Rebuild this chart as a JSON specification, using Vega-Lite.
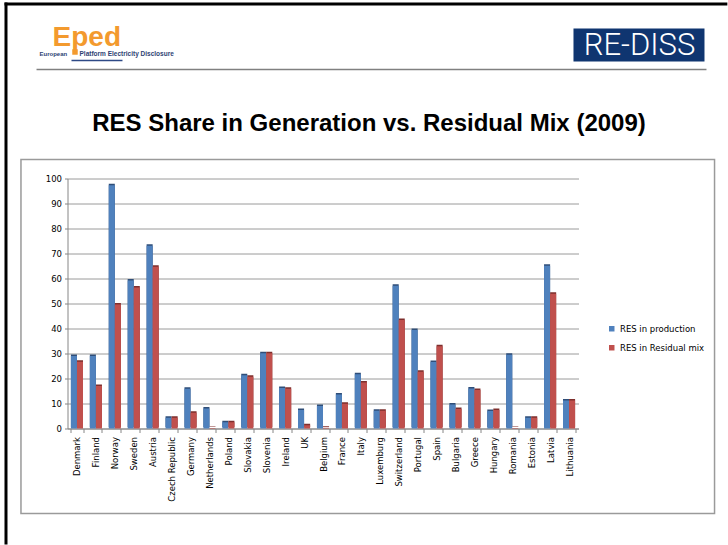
{
  "$schema": "https://vega.github.io/schema/vega-lite/v6.json",
  "background": "white",
  "padding": {"left": 2.5, "top": 0.5, "right": 0, "bottom": 0},
  "bounds": "flush",
  "spacing": 109,
  "config": {"font": "DejaVu Sans", "view": {"stroke": null}},
  "vconcat": [
    {
      "width": 640,
      "height": 50,
      "data": {"values": [{"logo": "header"}]},
      "layer": [
        {
          "mark": {"type": "rect", "fill": "transparent", "stroke": "#9A9A9A", "strokeWidth": 1.5},
          "encoding": {
            "x": {"datum": -7.27, "type": "quantitative", "scale": {"domain": [0, 100]}, "axis": null},
            "x2": {"datum": 101.1},
            "y": {"datum": 280, "type": "quantitative", "scale": {"domain": [0, 100], "reverse": true}, "axis": null},
            "y2": {"datum": 988}
          }
        },
        {
          "mark": {"type": "rule", "color": "#000000", "strokeWidth": 3},
          "encoding": {
            "x": {"datum": -9.84, "type": "quantitative"},
            "x2": {"datum": 103.1},
            "y": {"datum": -31, "type": "quantitative"}
          }
        },
        {
          "mark": {"type": "rule", "color": "#000000", "strokeWidth": 3},
          "encoding": {
            "x": {"datum": -9.61, "type": "quantitative"},
            "y": {"datum": -34, "type": "quantitative"},
            "y2": {"datum": 1050}
          }
        },
        {
          "mark": {"type": "rule", "color": "#808080", "strokeWidth": 1.5},
          "encoding": {
            "x": {"datum": -4.84, "type": "quantitative"},
            "x2": {"datum": 99.84},
            "y": {"datum": 100, "type": "quantitative"}
          }
        },
        {
          "mark": {"type": "rule", "color": "#2E4A86", "strokeWidth": 1.5},
          "encoding": {
            "x": {"datum": 0.625, "type": "quantitative"},
            "x2": {"datum": 8.59},
            "y": {"datum": 82, "type": "quantitative"}
          }
        },
        {
          "mark": {"type": "square", "color": "#F39A2E", "opacity": 1, "size": 30},
          "encoding": {
            "x": {"datum": 1.17, "type": "quantitative"},
            "y": {"datum": 65, "type": "quantitative"}
          }
        },
        {
          "mark": {"type": "text", "text": "Eped", "font": "Liberation Sans", "fontWeight": "bold", "fontSize": 28, "color": "#F39A2E", "align": "left", "baseline": "alphabetic"},
          "encoding": {
            "x": {"datum": -2.34, "type": "quantitative"},
            "y": {"datum": 52, "type": "quantitative"}
          }
        },
        {
          "mark": {"type": "text", "text": "European", "font": "Liberation Sans", "fontWeight": "bold", "fontSize": 6, "color": "#2E3F73", "align": "left", "baseline": "alphabetic"},
          "encoding": {
            "x": {"datum": -4.375, "type": "quantitative"},
            "y": {"datum": 73, "type": "quantitative"}
          }
        },
        {
          "mark": {"type": "text", "text": "Platform Electricity Disclosure", "font": "Liberation Sans", "fontWeight": "bold", "fontSize": 6.5, "color": "#2E3F73", "align": "left", "baseline": "alphabetic"},
          "encoding": {
            "x": {"datum": 1.875, "type": "quantitative"},
            "y": {"datum": 73, "type": "quantitative"}
          }
        },
        {
          "mark": {"type": "rect", "color": "#0F3570"},
          "encoding": {
            "x": {"datum": 79.06, "type": "quantitative"},
            "x2": {"datum": 99.53},
            "y": {"datum": 18, "type": "quantitative"},
            "y2": {"datum": 84}
          }
        },
        {
          "mark": {"type": "text", "text": "RE-DISS", "font": "Roboto", "fontWeight": 300, "fontSize": 31, "color": "white", "align": "center", "baseline": "alphabetic"},
          "encoding": {
            "x": {"datum": 89.375, "type": "quantitative"},
            "y": {"datum": 71, "type": "quantitative"}
          }
        }
      ]
    },
    {
      "width": 511,
      "height": 250,
      "title": {
        "text": "RES Share in Generation vs. Residual Mix (2009)",
        "font": "Liberation Sans",
        "fontSize": 24,
        "fontWeight": "bold",
        "color": "#000000",
        "anchor": "middle",
        "frame": "group",
        "dx": 46,
        "offset": 38.5
      },
      "data": {
        "values": [
          {"country": "Denmark", "series": "RES in production", "value": 29.0},
          {"country": "Denmark", "series": "RES in Residual mix", "value": 26.7},
          {"country": "Finland", "series": "RES in production", "value": 29.0},
          {"country": "Finland", "series": "RES in Residual mix", "value": 17.0},
          {"country": "Norway", "series": "RES in production", "value": 97.3},
          {"country": "Norway", "series": "RES in Residual mix", "value": 49.6},
          {"country": "Sweden", "series": "RES in production", "value": 59.2},
          {"country": "Sweden", "series": "RES in Residual mix", "value": 56.4},
          {"country": "Austria", "series": "RES in production", "value": 73.1},
          {"country": "Austria", "series": "RES in Residual mix", "value": 64.7},
          {"country": "Czech Republic", "series": "RES in production", "value": 4.3},
          {"country": "Czech Republic", "series": "RES in Residual mix", "value": 4.3},
          {"country": "Germany", "series": "RES in production", "value": 15.9},
          {"country": "Germany", "series": "RES in Residual mix", "value": 6.3},
          {"country": "Netherlands", "series": "RES in production", "value": 8.0},
          {"country": "Netherlands", "series": "RES in Residual mix", "value": 0.2},
          {"country": "Poland", "series": "RES in production", "value": 2.5},
          {"country": "Poland", "series": "RES in Residual mix", "value": 2.5},
          {"country": "Slovakia", "series": "RES in production", "value": 21.3},
          {"country": "Slovakia", "series": "RES in Residual mix", "value": 20.7},
          {"country": "Slovenia", "series": "RES in production", "value": 30.1},
          {"country": "Slovenia", "series": "RES in Residual mix", "value": 30.1},
          {"country": "Ireland", "series": "RES in production", "value": 16.2},
          {"country": "Ireland", "series": "RES in Residual mix", "value": 15.9},
          {"country": "UK", "series": "RES in production", "value": 7.4},
          {"country": "UK", "series": "RES in Residual mix", "value": 1.3},
          {"country": "Belgium", "series": "RES in production", "value": 9.0},
          {"country": "Belgium", "series": "RES in Residual mix", "value": 0.3},
          {"country": "France", "series": "RES in production", "value": 13.6},
          {"country": "France", "series": "RES in Residual mix", "value": 9.9},
          {"country": "Italy", "series": "RES in production", "value": 21.7},
          {"country": "Italy", "series": "RES in Residual mix", "value": 18.4},
          {"country": "Luxemburg", "series": "RES in production", "value": 7.1},
          {"country": "Luxemburg", "series": "RES in Residual mix", "value": 7.1},
          {"country": "Switzerland", "series": "RES in production", "value": 57.1},
          {"country": "Switzerland", "series": "RES in Residual mix", "value": 43.4},
          {"country": "Portugal", "series": "RES in production", "value": 39.4},
          {"country": "Portugal", "series": "RES in Residual mix", "value": 22.7},
          {"country": "Spain", "series": "RES in production", "value": 26.6},
          {"country": "Spain", "series": "RES in Residual mix", "value": 32.9},
          {"country": "Bulgaria", "series": "RES in production", "value": 9.6},
          {"country": "Bulgaria", "series": "RES in Residual mix", "value": 7.8},
          {"country": "Greece", "series": "RES in production", "value": 16.0},
          {"country": "Greece", "series": "RES in Residual mix", "value": 15.4},
          {"country": "Hungary", "series": "RES in production", "value": 7.0},
          {"country": "Hungary", "series": "RES in Residual mix", "value": 7.4},
          {"country": "Romania", "series": "RES in production", "value": 29.5},
          {"country": "Romania", "series": "RES in Residual mix", "value": 0.2},
          {"country": "Estonia", "series": "RES in production", "value": 4.3},
          {"country": "Estonia", "series": "RES in Residual mix", "value": 4.3},
          {"country": "Latvia", "series": "RES in production", "value": 65.1},
          {"country": "Latvia", "series": "RES in Residual mix", "value": 53.9},
          {"country": "Lithuania", "series": "RES in production", "value": 11.2},
          {"country": "Lithuania", "series": "RES in Residual mix", "value": 11.2}
        ]
      },
      "encoding": {
        "x": {
          "field": "country",
          "type": "nominal",
          "sort": null,
          "scale": {"paddingInner": 0.36, "paddingOuter": 0.18},
          "axis": {
            "title": null,
            "labelAngle": -90,
            "labelAlign": "right",
            "labelBaseline": "middle",
            "labelFontSize": 8.5,
            "labelColor": "#000000",
            "labelPadding": 4,
            "tickSize": 4,
            "tickBand": "extent",
            "tickColor": "#868686",
            "domainColor": "#868686",
            "grid": false
          }
        },
        "xOffset": {"field": "series", "type": "nominal", "sort": ["RES in production", "RES in Residual mix"]},
        "y": {
          "field": "value",
          "type": "quantitative",
          "scale": {"domain": [0, 100], "nice": false},
          "axis": {
            "title": null,
            "values": [0, 10, 20, 30, 40, 50, 60, 70, 80, 90, 100],
            "labelFontSize": 8.5,
            "labelColor": "#000000",
            "tickSize": 3,
            "labelPadding": 3,
            "tickColor": "#868686",
            "domainColor": "#868686",
            "grid": true,
            "gridColor": "#9A9A9A",
            "minExtent": 31
          }
        }
      },
      "layer": [
        {
          "mark": {"type": "bar", "xOffset": 1.5, "yOffset": -1.5},
          "encoding": {
            "color": {
              "field": "series",
              "type": "nominal",
              "scale": {"domain": ["RES in production", "RES in Residual mix"], "range": ["#2F4E78", "#7E2F2D"]},
              "legend": null
            }
          }
        },
        {
          "mark": {"type": "bar"},
          "encoding": {
            "color": {
              "field": "series",
              "type": "nominal",
              "scale": {"domain": ["RES in production", "RES in Residual mix"], "range": ["#4F81BD", "#C0504D"]},
              "legend": {
                "title": null,
                "orient": "none",
                "legendX": 540,
                "legendY": 146,
                "symbolType": "square",
                "symbolSize": 30,
                "symbolStrokeWidth": 0,
                "labelFontSize": 8.5,
                "labelColor": "#000000",
                "labelOffset": 4,
                "rowPadding": 10
              }
            }
          }
        }
      ],
      "resolve": {"scale": {"color": "independent"}, "legend": {"color": "independent"}}
    }
  ]
}
